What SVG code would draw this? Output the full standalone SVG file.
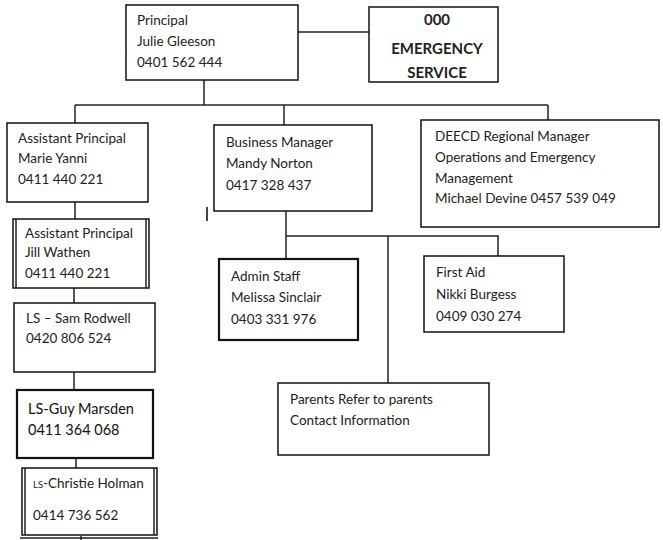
<svg xmlns="http://www.w3.org/2000/svg" width="663" height="540" viewBox="0 0 663 540">
<style>
.bx{fill:#fff;stroke:#111;stroke-width:1.5}
.bx2{fill:#fff;stroke:#111;stroke-width:2.2}
.ln{fill:none;stroke:#222;stroke-width:1.5}
text{font-family:Lato,"Open Sans","Liberation Sans",sans-serif;font-size:13.5px;fill:#222}
.b{font-weight:bold;text-anchor:middle;font-size:15px}
.big{font-size:14.5px;fill:#111}
</style>
<rect width="663" height="540" fill="#fff"/>
<g id="connectors">
<path class="ln" d="M298 32H369"/>
<path class="ln" d="M204 80V105"/>
<path class="ln" d="M75 105H548"/>
<path class="ln" d="M75 105V123"/>
<path class="ln" d="M284 105V125"/>
<path class="ln" d="M548 105V120"/>
<path class="ln" d="M75 202V219"/>
<path class="ln" d="M74 288V303"/>
<path class="ln" d="M74 372V390"/>
<path class="ln" d="M76 458V468"/>
<path class="ln" d="M286 211V259"/>
<path class="ln" d="M286 236H498V256"/>
<path class="ln" d="M388 236V383"/>
<path class="ln" d="M20 538H158"/>
<path class="ln" d="M81 536V540"/>
<path d="M207 207V221" stroke="#444" stroke-width="2"/>
</g>
<g id="principal">
<rect class="bx" x="126" y="5" width="172" height="75"/>
<text x="137" y="25">Principal</text>
<text x="137" y="46">Julie Gleeson</text>
<text x="137" y="67">0401 562 444</text>
</g>
<g id="emergency">
<rect class="bx" x="369" y="7" width="129" height="75"/>
<text class="b" x="437" y="25">000</text>
<text class="b" x="437" y="54">EMERGENCY</text>
<text class="b" x="437" y="78">SERVICE</text>
</g>
<g id="ap-marie">
<rect class="bx" x="7" y="123" width="141" height="79"/>
<text x="18" y="143">Assistant Principal</text>
<text x="18" y="163">Marie Yanni</text>
<text x="18" y="184">0411 440 221</text>
</g>
<g id="ap-jill">
<rect class="bx" x="13" y="219" width="136" height="69"/>
<path class="ln" d="M16 219V288M146 219V288"/>
<text x="25" y="238">Assistant Principal</text>
<text x="25" y="257">Jill Wathen</text>
<text x="25" y="278">0411 440 221</text>
</g>
<g id="ls-sam">
<rect class="bx" x="14" y="303" width="141" height="69"/>
<text x="26" y="323">LS – Sam Rodwell</text>
<text x="26" y="343">0420 806 524</text>
</g>
<g id="ls-guy">
<rect class="bx2" x="17" y="390" width="136" height="68"/>
<text class="big" x="28" y="414">LS-Guy Marsden</text>
<text class="big" x="28" y="435">0411 364 068</text>
</g>
<g id="ls-christie">
<rect class="bx" x="22" y="468" width="135" height="67"/>
<path class="ln" d="M25 468V535M154 468V535"/>
<text x="33" y="488"><tspan font-size="9.5">LS</tspan>-Christie Holman</text>
<text x="33" y="520">0414 736 562</text>
</g>
<g id="business-manager">
<rect class="bx" x="214" y="125" width="158" height="86"/>
<text x="226" y="147">Business Manager</text>
<text x="226" y="168">Mandy Norton</text>
<text x="226" y="190">0417 328 437</text>
</g>
<g id="deecd">
<rect class="bx" x="421" y="120" width="238" height="107"/>
<text x="435" y="141">DEECD Regional Manager</text>
<text x="435" y="162">Operations and Emergency</text>
<text x="435" y="183">Management</text>
<text x="435" y="203">Michael Devine 0457 539 049</text>
</g>
<g id="admin-staff">
<rect class="bx2" x="219" y="259" width="139" height="81"/>
<text x="231" y="281">Admin Staff</text>
<text x="231" y="302">Melissa Sinclair</text>
<text x="231" y="324">0403 331 976</text>
</g>
<g id="first-aid">
<rect class="bx" x="424" y="256" width="140" height="76"/>
<text x="436" y="277">First Aid</text>
<text x="436" y="299">Nikki Burgess</text>
<text x="436" y="321">0409 030 274</text>
</g>
<g id="parents">
<rect class="bx" x="278" y="383" width="211" height="72"/>
<text x="290" y="404">Parents Refer to parents</text>
<text x="290" y="425">Contact Information</text>
</g>
</svg>
